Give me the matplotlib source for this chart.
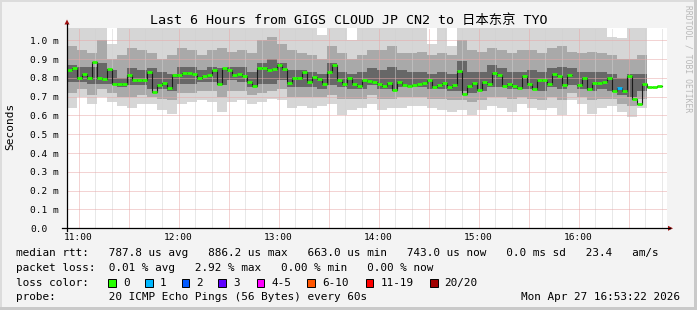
import numpy as np
import matplotlib
matplotlib.use("Agg")
import matplotlib.pyplot as plt
from matplotlib.patches import Polygon, Rectangle
from matplotlib.lines import Line2D

plt.rcParams['font.family'] = ['DejaVu Sans Mono', 'Noto Sans CJK SC']

W, H = 697, 310

# time axis in minutes since midnight, 6 hour window
t_start = 10 * 60 + 53.1
span = 360

# ---------- data ----------
# median rtt in ms, one value per 3 minutes
median_ms = [
    0.84, 0.853, 0.80, 0.823, 0.80, 0.885, 0.797, 0.795, 0.846, 0.77,
    0.766, 0.768, 0.814, 0.79, 0.79, 0.79, 0.83, 0.725, 0.76, 0.775,
    0.747, 0.814, 0.818, 0.828, 0.828, 0.82, 0.80, 0.81, 0.815, 0.84,
    0.765, 0.85, 0.84, 0.814, 0.82, 0.812, 0.78, 0.755, 0.853, 0.85,
    0.84, 0.846, 0.867, 0.846, 0.775, 0.797, 0.80, 0.832, 0.78, 0.805,
    0.795, 0.766, 0.83, 0.867, 0.79, 0.765, 0.80, 0.765, 0.756, 0.787,
    0.785, 0.78, 0.767, 0.758, 0.772, 0.735, 0.78, 0.76, 0.757, 0.76,
    0.77, 0.772, 0.787, 0.752, 0.762, 0.773, 0.752, 0.762, 0.835, 0.717,
    0.757, 0.775, 0.735, 0.78, 0.765, 0.826, 0.818, 0.756, 0.765, 0.756,
    0.747, 0.81, 0.765, 0.74, 0.79, 0.787, 0.77, 0.82, 0.81, 0.76,
    0.814, np.nan, 0.76, 0.80, 0.74, 0.775, 0.775, 0.78, 0.80, 0.731,
    0.747, 0.73, 0.81, 0.69, 0.66, 0.765, 0.752, 0.752, 0.758, np.nan,
]
# lost pings per slot
loss = [
    0, 0, 0, 0, 0, 0, 0, 0, 0, 0, 0, 0, 0, 0, 0, 0, 0, 0, 0, 0, 0, 0, 0, 0, 0, 0, 0, 0, 0, 0,
    0, 0, 0, 0, 0, 0, 0, 0, 0, 0, 0, 0, 0, 0, 0, 0, 0, 0, 0, 0, 0, 0, 0, 0, 0, 0, 0, 0, 0, 0,
    0, 0, 0, 0, 0, 0, 0, 0, 0, 0, 0, 0, 0, 0, 0, 0, 0, 0, 0, 0, 0, 0, 0, 0, 0, 0, 0, 0, 0, 0,
    0, 0, 0, 0, 0, 0, 0, 0, 0, 0, 0, 0, 0, 0, 0, 0, 0, 0, 0, 0, 1, 0, 0, 0, 0, 0, 0, 0, 0, 0,
]

# smoke (ping spread) in ms, one value per 6 minutes
smoke_top = [
    1.1, 1.1, 1.1, 1.1, 0.98, 1.1, 1.1, 1.1, 1.1, 1.1, 1.1, 1.1, 1.1, 1.1, 1.1,
    1.1, 1.1, 1.1, 1.1, 1.1, 1.1, 1.1, 1.1, 1.1, 1.1, 1.03, 1.1, 1.1, 1.0, 1.1,
    1.1, 1.1, 1.1, 1.1, 1.1, 1.1, 0.98, 1.1, 0.97, 1.1, 1.1, 1.1, 1.1, 1.1, 1.1,
    1.1, 1.1, 1.1, 1.1, 1.1, 1.1, 1.1, 1.1, 1.1, 1.02, 1.01, 1.1, 1.1, 1.1, np.nan,
]
smoke_up2 = [
    0.97, 0.95, 0.93, 1.0, 0.90, 0.92, 0.96, 0.95, 0.93, 0.90, 0.92, 0.96, 0.95, 0.92, 0.95,
    0.96, 0.94, 0.95, 0.93, 1.0, 1.02, 0.98, 0.95, 0.93, 0.92, 0.90, 0.97, 0.93, 0.90, 0.92,
    0.95, 0.95, 0.97, 0.93, 0.93, 0.94, 0.92, 0.93, 0.92, 1.0, 0.95, 0.94, 0.96, 0.95, 0.93,
    0.95, 0.95, 0.93, 0.96, 0.97, 0.94, 0.93, 0.94, 0.93, 0.92, 0.90, 0.90, 0.92, 0.92, np.nan,
]
smoke_up1 = [
    0.87, 0.86, 0.86, 0.88, 0.84, 0.80, 0.85, 0.84, 0.85, 0.83, 0.82, 0.86, 0.86, 0.84, 0.86,
    0.85, 0.86, 0.86, 0.83, 0.88, 0.90, 0.88, 0.84, 0.84, 0.83, 0.82, 0.88, 0.83, 0.82, 0.83,
    0.85, 0.84, 0.86, 0.84, 0.83, 0.83, 0.82, 0.83, 0.82, 0.89, 0.83, 0.83, 0.87, 0.85, 0.83,
    0.83, 0.84, 0.83, 0.85, 0.86, 0.85, 0.83, 0.83, 0.83, 0.82, 0.80, 0.82, 0.82, 0.82, np.nan,
]
smoke_dn1 = [
    0.78, 0.78, 0.77, 0.77, 0.77, 0.75, 0.76, 0.76, 0.74, 0.74, 0.73, 0.77, 0.77, 0.78, 0.78,
    0.76, 0.79, 0.78, 0.75, 0.77, 0.77, 0.79, 0.75, 0.75, 0.75, 0.74, 0.76, 0.75, 0.74, 0.74,
    0.76, 0.74, 0.74, 0.75, 0.75, 0.75, 0.74, 0.74, 0.73, 0.73, 0.72, 0.73, 0.75, 0.75, 0.74,
    0.74, 0.74, 0.73, 0.75, 0.74, 0.76, 0.74, 0.73, 0.74, 0.73, 0.71, 0.70, 0.73, 0.73, np.nan,
]
smoke_dn2 = [
    0.72, 0.74, 0.71, 0.74, 0.72, 0.70, 0.70, 0.71, 0.70, 0.69, 0.68, 0.72, 0.72, 0.73, 0.73,
    0.70, 0.73, 0.73, 0.71, 0.72, 0.73, 0.74, 0.70, 0.70, 0.70, 0.70, 0.71, 0.69, 0.69, 0.69,
    0.71, 0.69, 0.69, 0.70, 0.70, 0.70, 0.69, 0.69, 0.68, 0.68, 0.67, 0.68, 0.70, 0.70, 0.69,
    0.70, 0.69, 0.68, 0.70, 0.68, 0.72, 0.70, 0.68, 0.69, 0.69, 0.66, 0.65, 0.69, 0.69, np.nan,
]
smoke_bot = [
    0.64, 0.70, 0.66, 0.70, 0.67, 0.65, 0.64, 0.66, 0.66, 0.63, 0.61, 0.66, 0.67, 0.68, 0.67,
    0.62, 0.67, 0.68, 0.66, 0.67, 0.69, 0.68, 0.64, 0.65, 0.64, 0.65, 0.66, 0.60, 0.63, 0.64,
    0.66, 0.63, 0.64, 0.64, 0.65, 0.65, 0.64, 0.63, 0.62, 0.63, 0.60, 0.63, 0.65, 0.64, 0.62,
    0.66, 0.64, 0.63, 0.64, 0.60, 0.68, 0.66, 0.61, 0.64, 0.65, 0.62, 0.59, 0.64, 0.64, np.nan,
]

hour_labels = ["11:00", "12:00", "13:00", "14:00", "15:00", "16:00"]
ytick_vals = [0.0, 0.1, 0.2, 0.3, 0.4, 0.5, 0.6, 0.7, 0.8, 0.9, 1.0]
ytick_labels = ["0.0", "0.1 m", "0.2 m", "0.3 m", "0.4 m", "0.5 m",
                "0.6 m", "0.7 m", "0.8 m", "0.9 m", "1.0 m"]

loss_names = ["0", "1", "2", "3", "4-5", "6-10", "11-19", "20/20"]
loss_colors = ["#26ff00", "#00b8ff", "#0059ff", "#5e00ff",
               "#ff00ff", "#ff5500", "#ff0000", "#a10000"]

title = "Last 6 Hours from GIGS CLOUD JP CN2 to 日本东京 TYO"
row1 = ("median rtt:   787.8 us avg   886.2 us max   663.0 us min   "
        "743.0 us now   0.0 ms sd   23.4   am/s")
row2 = "packet loss:  0.01 % avg   2.92 % max   0.00 % min   0.00 % now"
row4 = "probe:        20 ICMP Echo Pings (56 Bytes) every 60s"
stamp = "Mon Apr 27 16:53:22 2026"


def fx(x):
    return x / W


def fy(y):
    return 1 - y / H


fig = plt.figure(figsize=(W / 100, H / 100), dpi=100, facecolor="#f3f3f3")
ax = fig.add_axes([fx(67), fy(228.3), 600 / W, 200.3 / H])
ax.set_facecolor("white")
ymax = 1.0654
ax.set_xlim(t_start, t_start + span)
ax.set_ylim(0, ymax)
for s in ax.spines.values():
    s.set_visible(False)

# ---------- smoke ----------
e6 = t_start + 6 * np.arange(len(smoke_top) + 1)


def band(lo, hi, color):
    lo = np.array(lo, float)
    hi = np.array(hi, float)
    ax.fill_between(e6, np.append(lo, lo[-1]), np.append(hi, hi[-1]),
                    step="post", color=color, lw=0, zorder=1)


band(smoke_bot, smoke_top, "#d6d6d6")
band(smoke_dn2, smoke_up2, "#a9a9a9")
band(smoke_dn1, smoke_up1, "#676767")

# ---------- grid ----------
m0 = np.ceil(t_start / 10) * 10
for m in np.arange(m0, t_start + span, 10):
    major = (m % 30) == 0
    ax.axvline(m, color="#e8a8a8" if major else "#d2d2d2", lw=0.72,
               ls=(0, (1, 1)), zorder=3)
for v in ytick_vals[1:]:
    ax.axhline(v, color="#e8a8a8", lw=0.72, ls=(0, (1, 1)), zorder=3)

# ---------- median ----------
e3 = t_start + 3 * np.arange(len(median_ms) + 1)
med = np.array(median_ms, float)
ax.step(e3, np.append(med, med[-1]), where="post", color="#1a1a1a",
        lw=0.8, zorder=4)
ok = ~np.isnan(med)
cols = [loss_colors[l] for l in loss]
ax.hlines(med[ok], e3[:-1][ok], e3[1:][ok],
          colors=[c for c, k in zip(cols, ok) if k], lw=2.0, zorder=5)

# ---------- ticks ----------
hours = [11 * 60 + 60 * i for i in range(len(hour_labels))]
ax.set_xticks(hours)
ax.set_xticklabels(hour_labels, fontsize=6.8)
ax.set_yticks(ytick_vals)
ax.set_yticklabels(ytick_labels, fontsize=6.8)
ax.tick_params(axis="x", length=0, pad=3.5)
ax.tick_params(axis="y", length=0, pad=26.3)
for lbl in ax.get_yticklabels():
    lbl.set_horizontalalignment("left")

# ---------- axis lines with arrows ----------
fig.add_artist(Line2D([fx(62), fx(670)], [fy(228.3), fy(228.3)],
                      color="black", lw=0.9))
fig.add_artist(Line2D([fx(67), fx(67)], [fy(231), fy(24)],
                      color="black", lw=0.9))
fig.add_artist(Polygon([[fx(673), fy(228.3)], [fx(668), fy(225.8)],
                        [fx(668), fy(230.8)]], closed=True,
                       color="#a01010", lw=0))
fig.add_artist(Polygon([[fx(67), fy(19.5)], [fx(64.5), fy(24.5)],
                        [fx(69.5), fy(24.5)]], closed=True,
                       color="#a01010", lw=0))

# ---------- frame ----------
fig.add_artist(Rectangle((0, fy(2)), 1, 2 / H, color="#dcdcdc", lw=0))
fig.add_artist(Rectangle((0, 0), 2 / W, 1, color="#dcdcdc", lw=0))
fig.add_artist(Rectangle((0, 0), 1, 3 / H, color="#c9c9c9", lw=0))
fig.add_artist(Rectangle((fx(694), 0), 3 / W, 1, color="#c9c9c9", lw=0))

# ---------- texts ----------
fig.text(fx(348.5), fy(20.5), title, ha="center", va="center", fontsize=9.6)
fig.text(fx(10.5), fy(126), "Seconds", rotation=90, ha="center",
         va="center", fontsize=8)
fig.text(fx(688), fy(5), "RRDTOOL / TOBI OETIKER", rotation=270,
         ha="center", va="top", fontsize=5.8, color="#b8b8b8")

fs = 7.9
fig.text(fx(16), fy(253), row1, va="center", fontsize=fs)
fig.text(fx(16), fy(268), row2, va="center", fontsize=fs)
fig.text(fx(16), fy(283), "loss color:", va="center", fontsize=fs)
box_x = [108.3, 145, 181.7, 218.3, 256.7, 307.3, 365.7, 430]
for bx, name, c in zip(box_x, loss_names, loss_colors):
    fig.add_artist(Rectangle((fx(bx), fy(287)), 7.7 / W, 7.7 / H,
                             facecolor=c, edgecolor="black", lw=0.7))
    fig.text(fx(bx + 14.5), fy(283), name, va="center", fontsize=fs)
fig.text(fx(16), fy(297), row4, va="center", fontsize=fs)
fig.text(fx(680), fy(297), stamp, ha="right", va="center", fontsize=fs)

fig.savefig("out.png", dpi=100, facecolor=fig.get_facecolor())
